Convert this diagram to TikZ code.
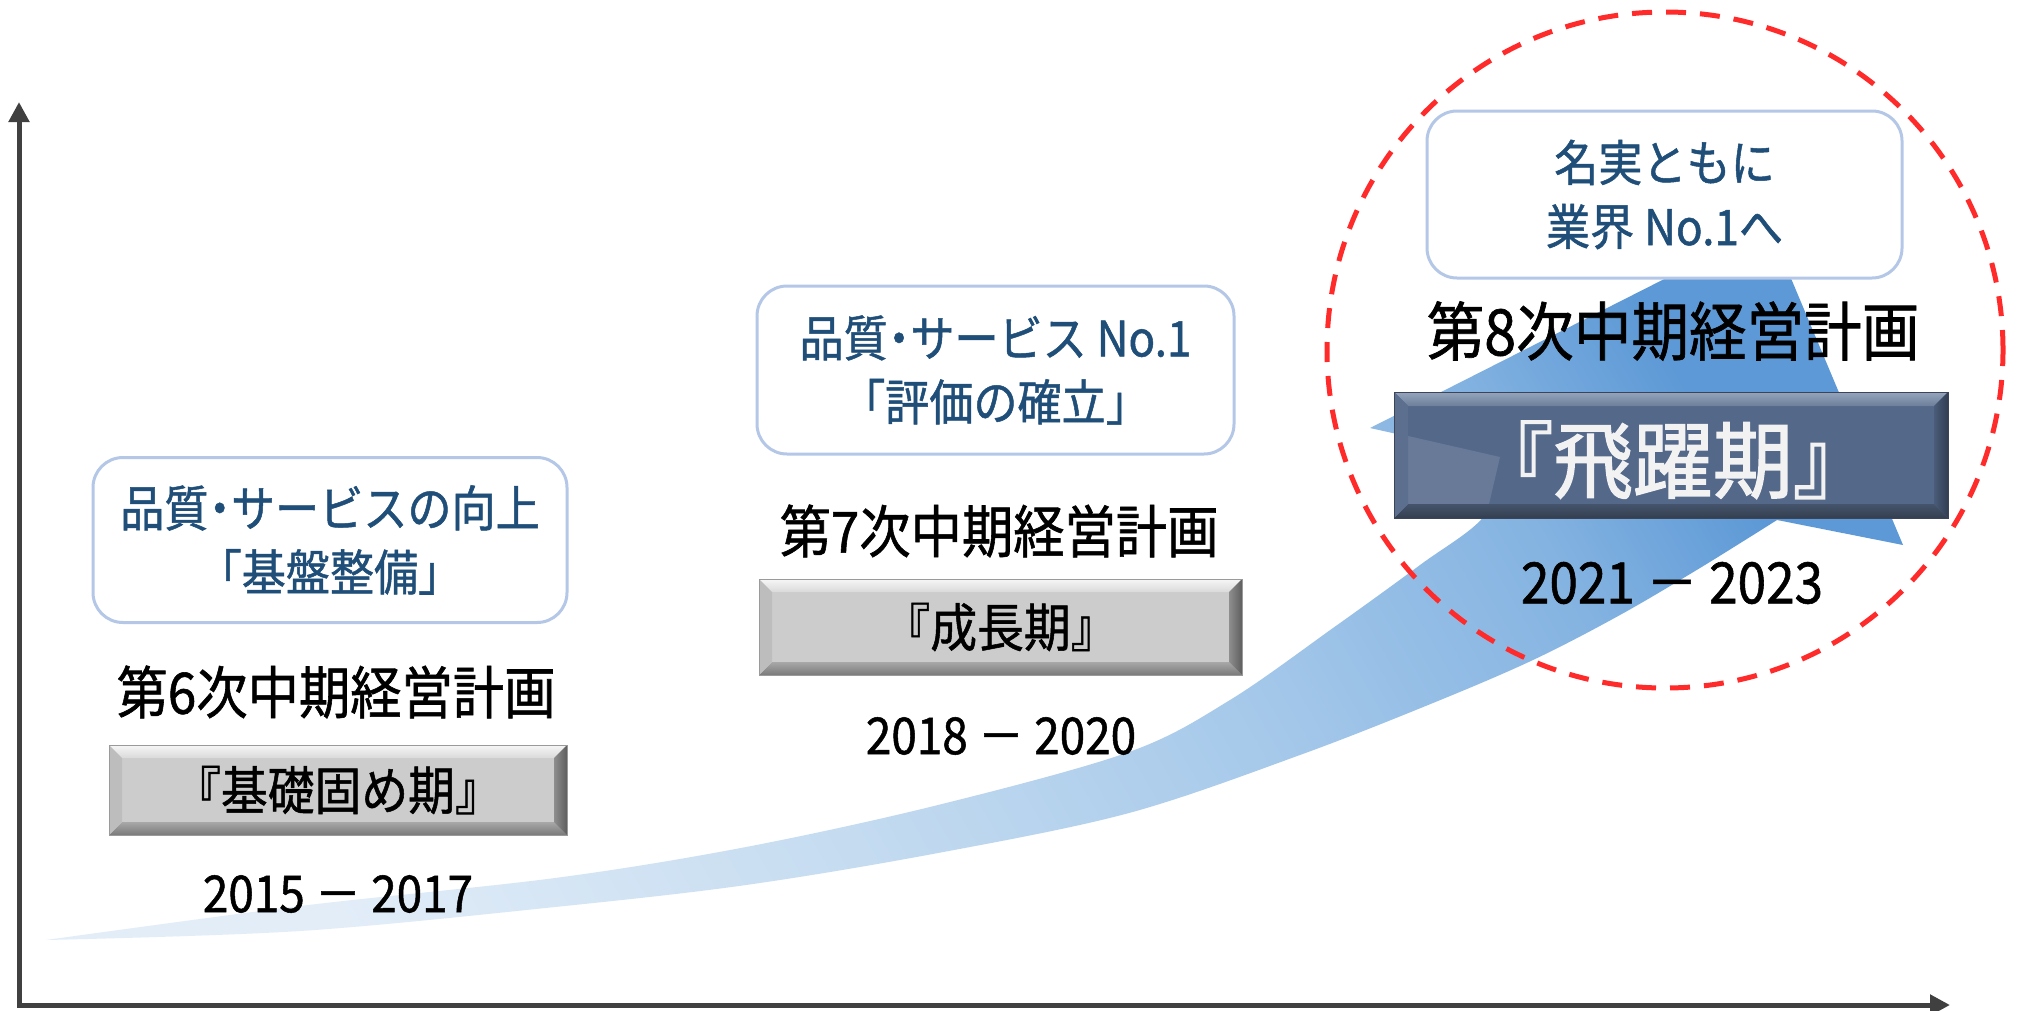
\documentclass[tikz,border=0pt]{standalone}
\usepackage{fontspec}
\setmainfont{Noto Sans CJK JP}[FakeBold=1.0, FakeStretch=0.9]
\newfontfamily\heavyjp{Noto Sans CJK JP}[FakeBold=1.6, FakeStretch=0.95]
\usetikzlibrary{arrows.meta}
\definecolor{axisgray}{HTML}{404040}
\definecolor{txtblue}{HTML}{1F4E79}
\definecolor{boxline}{HTML}{B4C7E7}
\definecolor{circred}{HTML}{FF2B2B}
\definecolor{aw0}{HTML}{E2EDF8}
\definecolor{aw1}{HTML}{C4DBF0}
\definecolor{aw2}{HTML}{A6C9EA}
\definecolor{aw3}{HTML}{84B3E1}
\definecolor{aw4}{HTML}{5D99D6}
\definecolor{grayface}{HTML}{CCCCCC}
\definecolor{grayedge}{HTML}{9A9A9A}
\definecolor{graytopA}{HTML}{F6F6F6}
\definecolor{graytopB}{HTML}{DADADA}
\definecolor{grayleft}{HTML}{BDBDBD}
\definecolor{grayrightA}{HTML}{8E8E8E}
\definecolor{grayrightB}{HTML}{5E5E5E}
\definecolor{graybotA}{HTML}{A8A8A8}
\definecolor{graybotB}{HTML}{7A7A7A}
\definecolor{darkface}{HTML}{54688A}
\definecolor{darkedge}{HTML}{3B4557}
\definecolor{darktopA}{HTML}{95A5BC}
\definecolor{darktopB}{HTML}{6C7E9B}
\definecolor{darkleft}{HTML}{5C6F8F}
\definecolor{darkrightA}{HTML}{4A5C7A}
\definecolor{darkrightB}{HTML}{323E51}
\definecolor{darkbotA}{HTML}{45546C}
\definecolor{darkbotB}{HTML}{343F50}
\definecolor{darktext}{HTML}{F2F2F2}
\pgfdeclareverticalshading{arrowshade}{100bp}{color(0bp)=(aw0); color(25bp)=(aw0); color(42bp)=(aw1); color(56bp)=(aw2); color(68bp)=(aw3); color(75bp)=(aw4); color(100bp)=(aw4)}
\newcommand\nakag{\kern-0.22em・\kern-0.22em}
\newcommand\bevelframe[6]{%
  \path[#3] (#1.north west) -- (#1.north east) -- ([shift={(-#2,#2)}]#1.north east) -- ([shift={(#2,#2)}]#1.north west) -- cycle;
  \path[#6] (#1.south west) -- (#1.south east) -- ([shift={(-#2,-#2)}]#1.south east) -- ([shift={(#2,-#2)}]#1.south west) -- cycle;
  \path[#4] (#1.north west) -- ([shift={(#2,#2)}]#1.north west) -- ([shift={(#2,-#2)}]#1.south west) -- (#1.south west) -- cycle;
  \path[#5] (#1.north east) -- ([shift={(-#2,#2)}]#1.north east) -- ([shift={(-#2,-#2)}]#1.south east) -- (#1.south east) -- cycle;
  \draw[line width=1pt, draw=#1edge] (#1.north west) rectangle (#1.south east);
}
\tikzset{
  goalbox/.style={draw=boxline, line width=3pt, fill=white, rounded corners=30pt, inner sep=0pt,
    align=center, text=txtblue, font=\fontsize{49}{64}\selectfont},
  plantext/.style={inner sep=0pt, font=\fontsize{57}{62}\selectfont},
  yeartext/.style={inner sep=0pt, font=\fontsize{51}{56}\selectfont},
  graybox/.style={fill=grayface, inner sep=0pt, outer sep=0pt, font=\fontsize{52}{56}\selectfont},
  darkbox/.style={fill=darkface, inner sep=0pt, outer sep=0pt, text=darktext, font=\heavyjp\fontsize{84}{86}\selectfont},
  axisline/.style={draw=axisgray, line width=5pt, {Triangle[length=20pt,width=20pt]}-{Triangle[length=20pt,width=20pt]}},
  focusring/.style={draw=circred, line width=5pt, dash pattern=on 20pt off 14pt, circle, inner sep=0pt}
}
\colorlet{s1edge}{grayedge}
\colorlet{s2edge}{grayedge}
\colorlet{s3edge}{darkedge}
\begin{document}
\begin{tikzpicture}[x=1pt,y=-1pt]
\useasboundingbox (0,0) rectangle (2020,1010);
\fill[white] (0,0) rectangle (2020,1010);
% growth arrow
\shade[shading=arrowshade, shading angle=-60]
  plot[smooth, tension=0.55] coordinates {(46,940) (300,906) (555,878) (746,847) (938,805) (1129,752) (1230,700) (1333,628) (1420,565) (1485,515) (1500,457)}
  -- (1370,428) -- (1769,226) -- (1903,545) -- (1777,520)
  -- plot[smooth, tension=0.55] coordinates {(1777,520) (1700,568) (1620,615) (1533,660) (1433,703) (1300,755) (1129,813) (938,853) (746,885) (555,907) (300,931) (46,940)}
  -- cycle;
% axes
\coordinate (O) at (19,1005);
\coordinate (ytip) at (19,102);
\coordinate (xtip) at (1950,1005);
\draw[axisline] (ytip) -- (O) -- (xtip);
% goal boxes
\node[goalbox, minimum width=474pt, minimum height=165pt] (g1) at (330,540) {品質\nakag サービスの向上\\「基盤整備」};
\node[goalbox, minimum width=477pt, minimum height=168pt] (g2) at (995.5,370) {品質\nakag サービス No.1\\「評価の確立」};
\node[goalbox, minimum width=475pt, minimum height=167pt] (g3) at (1664.5,194.5) {名実ともに\\業界 No.1へ};
% plan titles
\node[plantext] (p1) at (336,692) {第6次中期経営計画};
\node[plantext] (p2) at (999,531) {第7次中期経営計画};
\node[plantext, font=\fontsize{64}{68}\selectfont] (p3) at (1673,331) {第8次中期経営計画};
% phase boxes
\node[graybox, minimum width=458pt, minimum height=90pt] (s1) at (338,790) {『基礎固め期』};
\bevelframe{s1}{13}{top color=graytopA,bottom color=graytopB}{fill=grayleft}{left color=grayrightA,right color=grayrightB}{top color=graybotA,bottom color=graybotB}
\node[graybox, minimum width=483pt, minimum height=96pt] (s2) at (1000.5,627) {『成長期』};
\bevelframe{s2}{13}{top color=graytopA,bottom color=graytopB}{fill=grayleft}{left color=grayrightA,right color=grayrightB}{top color=graybotA,bottom color=graybotB}
\node[darkbox, minimum width=554pt, minimum height=126pt] (s3) at (1671,455) {};
\fill[white, opacity=0.12] (1395,433) -- (1500,457) -- (1486,517) -- (1395,517) -- cycle;
\bevelframe{s3}{14}{top color=darktopA,bottom color=darktopB}{fill=darkleft}{left color=darkrightA,right color=darkrightB}{top color=darkbotA,bottom color=darkbotB}
\node[darkbox, fill=none] (s3t) at (1673,460) {『飛躍期』};
% years
\node[yeartext] (y1) at (338,894) {2015 － 2017};
\node[yeartext] (y2) at (1001,736) {2018 － 2020};
\node[yeartext, font=\fontsize{57}{62}\selectfont] (y3) at (1672,583) {2021 － 2023};
% focus ring
\node[focusring, minimum size=676pt] (focus) at (1665,350) {};
\end{tikzpicture}
\end{document}
